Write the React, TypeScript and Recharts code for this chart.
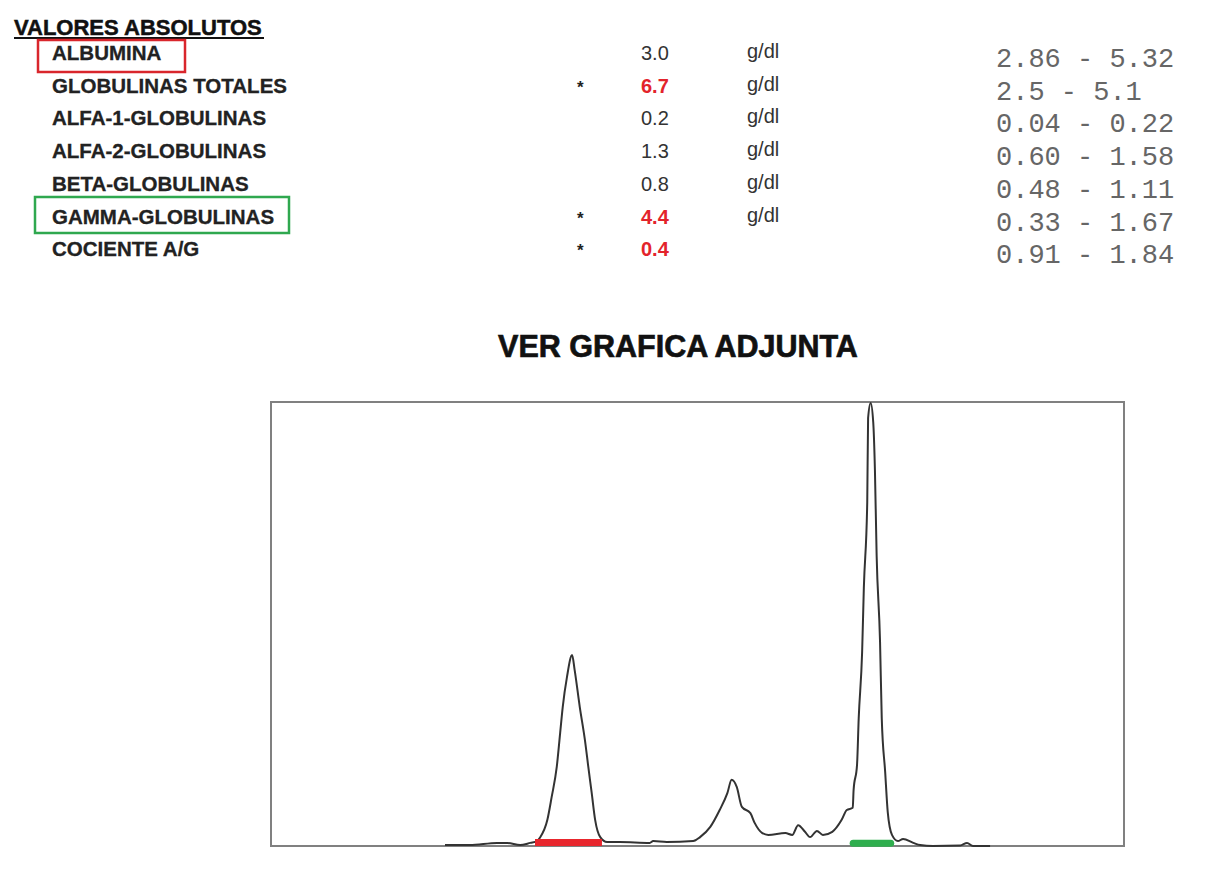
import { LineChart, Line, XAxis, YAxis, ReferenceArea } from 'recharts';

// Report table
const labels = [
  'ALBUMINA',
  'GLOBULINAS TOTALES',
  'ALFA-1-GLOBULINAS',
  'ALFA-2-GLOBULINAS',
  'BETA-GLOBULINAS',
  'GAMMA-GLOBULINAS',
  'COCIENTE A/G',
];
const values = ['3.0', '6.7', '0.2', '1.3', '0.8', '4.4', '0.4'];
const flagged = [false, true, false, false, false, true, true];
const units = ['g/dl', 'g/dl', 'g/dl', 'g/dl', 'g/dl', 'g/dl', ''];
const ranges = [
  '2.86 - 5.32',
  '2.5 - 5.1',
  '0.04 - 0.22',
  '0.60 - 1.58',
  '0.48 - 1.11',
  '0.33 - 1.67',
  '0.91 - 1.84',
];

// Electrophoresis trace: migration (% of frame width) vs relative density
const traceX = [
  20.4, 23.3, 26.5, 27.7, 29.2, 30.4, 31.2, 31.5, 32.4, 32.9, 33.5, 33.9, 34.2, 34.7,
  35.3, 35.6, 36.2, 36.8, 37.2, 37.6, 38.0, 38.6, 39.4, 40.9, 44.4, 44.8, 46.4, 49.5,
  50.3, 51.5, 52.6, 53.5, 54.0, 54.6, 55.2, 56.2, 56.7, 57.6, 58.3, 60.3, 61.1, 61.8,
  62.6, 63.2, 64.0, 64.7, 65.8, 66.9, 67.5, 68.2, 68.3, 68.7, 68.9, 69.3, 69.5, 69.9,
  70.0, 70.3, 70.6, 70.8, 71.0, 71.4, 71.6, 72.0, 72.3, 72.8, 73.5, 74.1, 75.3, 76.1,
  77.6, 80.8, 81.6, 82.3, 84.3,
];
const traceY = [
  0.2, 0.2, 0.7, 0.7, 0.2, 0.7, 1.1, 1.8, 5.9, 11.0, 17.8, 25.5, 31.3, 38.1,
  43.0, 39.6, 31.3, 23.9, 17.8, 11.9, 5.9, 2.0, 0.9, 0.9, 0.7, 1.1, 0.9, 1.1,
  2.0, 4.3, 8.1, 11.9, 14.9, 13.3, 8.8, 7.4, 5.2, 2.9, 2.5, 2.9, 2.5, 4.7,
  3.2, 2.0, 3.4, 2.5, 3.2, 5.9, 8.1, 8.6, 12.6, 18.2, 28.8, 43.7, 58.1, 77.5,
  96.4, 99.8, 95.5, 84.7, 65.5, 46.0, 28.8, 16.7, 7.7, 2.5, 1.1, 1.6, 0.7, 0.2,
  0, 0.1, 0.7, 0, 0,
];

// Marked fractions under the trace
const albuminBand = [
  { x: 30.95, v: 0.8 },
  { x: 38.8, v: 0.8 },
];
const gammaBand = [
  { x: 68.25, v: 0.6 },
  { x: 72.65, v: 0.6 },
];

const trace = traceX.map((x, i) => ({ x, v: traceY[i] }));

const sans = '"Liberation Sans", Arial, sans-serif';
const mono = '"Liberation Mono", "Courier New", monospace';
const red = '#e3232b';

const Report = () => (
  <svg width={1221} height={380} style={{ position: 'absolute', left: 0, top: 0 }}>
    <text x={14} y={35} fontFamily={sans} fontWeight="bold" fontSize={22} fill="#111" stroke="#111" strokeWidth={0.5}>
      VALORES ABSOLUTOS
    </text>
    <line x1={14} x2={264} y1={38} y2={38} stroke="#111" strokeWidth={2} />
    <rect x={38} y={40} width={147} height={32} fill="none" stroke="#d9262c" strokeWidth={2.5} />
    <rect x={35} y={197} width={254} height={36} fill="none" stroke="#2fa84f" strokeWidth={2.5} />
    {labels.map((label, i) => {
      const y = 60 + i * 32.7;
      return (
        <g key={label}>
          <text
            x={52}
            y={y}
            fontFamily={sans}
            fontWeight="bold"
            fontSize={20.5}
            fill="#222"
            stroke="#222"
            strokeWidth={0.3}
          >
            {label}
          </text>
          {flagged[i] && (
            <text x={577} y={y} fontFamily={sans} fontWeight="bold" fontSize={17} fill="#222">
              *
            </text>
          )}
          <text
            x={641}
            y={y}
            fontFamily={sans}
            fontSize={20}
            fontWeight={flagged[i] ? 'bold' : 'normal'}
            fill={flagged[i] ? red : '#333'}
          >
            {values[i]}
          </text>
          {units[i] && (
            <text x={747} y={y - 2} fontFamily={sans} fontSize={20} fill="#333">
              {units[i]}
            </text>
          )}
          <text x={996} y={y + 7} fontFamily={mono} fontSize={27} fill="#666" xmlSpace="preserve">
            {ranges[i]}
          </text>
        </g>
      );
    })}
    <text
      x={678}
      y={357}
      textAnchor="middle"
      fontFamily={sans}
      fontWeight="bold"
      fontSize={30.5}
      fill="#111"
      stroke="#111"
      strokeWidth={0.7}
    >
      VER GRAFICA ADJUNTA
    </text>
  </svg>
);

export default function App() {
  return (
    <div style={{ position: 'absolute', left: 0, top: 0, width: 1221, height: 875, background: '#fff' }}>
      <Report />
      <div style={{ position: 'absolute', left: 269, top: 400 }}>
        <LineChart width={857} height={450} margin={{ top: 2, right: 2, bottom: 4, left: 2 }}>
          <XAxis type="number" dataKey="x" domain={[0, 100]} hide />
          <YAxis type="number" domain={[0, 100]} hide />
          <ReferenceArea x1={0} x2={100} y1={0} y2={100} fill="none" stroke="#808080" strokeWidth={2} />
          <Line
            data={trace}
            dataKey="v"
            type="monotone"
            stroke="#333"
            strokeWidth={2}
            dot={false}
            isAnimationActive={false}
          />
          <Line
            data={albuminBand}
            dataKey="v"
            stroke="#e8262d"
            strokeWidth={7}
            strokeLinecap="butt"
            dot={false}
            isAnimationActive={false}
          />
          <Line
            data={gammaBand}
            dataKey="v"
            stroke="#2fae4e"
            strokeWidth={7}
            strokeLinecap="round"
            dot={false}
            isAnimationActive={false}
          />
        </LineChart>
      </div>
    </div>
  );
}
